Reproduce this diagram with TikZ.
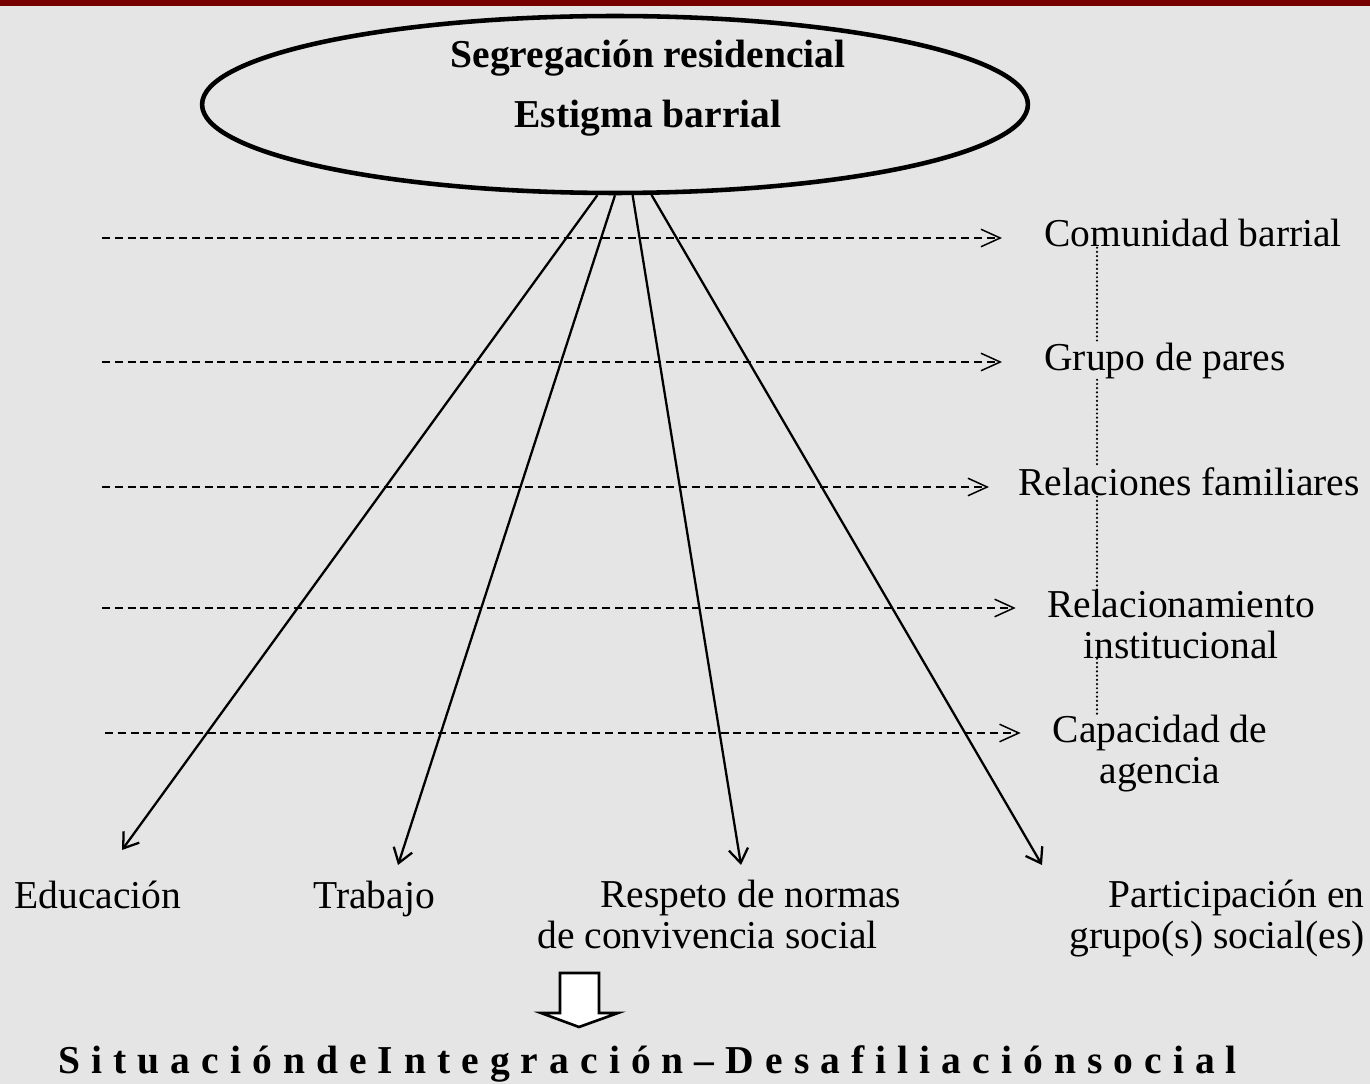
\documentclass[tikz,border=0pt]{standalone}
\usepackage{fontspec}
\setmainfont{Liberation Serif}
\usepackage{tikz}
\usetikzlibrary{shapes.geometric,arrows.meta}
\definecolor{bgcol}{RGB}{229,229,229}
\definecolor{barcol}{RGB}{118,0,0}
\newcommand\lblsize{\fontsize{22.5}{22.8}\selectfont}
\tikzset{
  lbl/.style={inner sep=0pt, font=\lblsize},
  lev/.style={dash pattern=on 4.5pt off 2.8pt, line width=0.85pt, -{Straight Barb[length=11pt,width=10pt]}},
  eff/.style={line width=1.3pt, -{Straight Barb[length=8pt,width=11pt]}},
  link/.style={dash pattern=on 0pt off 2.4pt, line cap=round, line width=1.4pt},
}
\begin{document}
\begin{tikzpicture}[x=0.02cm, y=-0.02cm]
  \fill[bgcol] (0,0) rectangle (1370,1084);
  \fill[barcol] (0,0) rectangle (1370,6);
  \useasboundingbox (0,0) rectangle (1370,1084);

  \node[ellipse, draw, line width=2.6pt, minimum width=16.52cm, minimum height=3.54cm, inner sep=0pt] (seg) at (615,104.5) {};
  \node[lbl, anchor=base, font=\lblsize\bfseries] (segres) at (648,68) {Segregación residencial};
  \node[lbl, anchor=base, font=\lblsize\bfseries] (estbar) at (648,128) {Estigma barrial};

  % niveles de la derecha
  \node[lbl, anchor=base west] (com) at (1044,247) {Comunidad barrial};
  \node[lbl, anchor=base west] (gru) at (1044,371) {Grupo de pares};
  \node[lbl, anchor=base west] (rel) at (1018,496) {Relaciones familiares};
  \node[lbl, anchor=base, align=center] (rcn) at (1181,658) {Relacionamiento\\institucional};
  \node[lbl, anchor=base, align=center] (cap) at (1160,783) {Capacidad de\\agencia};

  \coordinate (d1) at (102,238);
  \coordinate (d2) at (102,362);
  \coordinate (d3) at (102,487);
  \coordinate (d4) at (102,608);
  \coordinate (d5) at (105,733);
  \foreach \i/\n/\s in {1/com/0.84cm, 2/gru/0.84cm, 3/rel/0.58cm, 4/rcn/0.62cm, 5/cap/0.64cm}
    \draw[lev, shorten >=\s] (d\i) -- (d\i -| \n.west);

  \coordinate (dotx) at (1097,0);
  \draw[link] (com.south -| dotx) -- (gru.north -| dotx);
  \draw[link] (gru.south -| dotx) -- (rel.north -| dotx);
  \draw[link] (rel.south -| dotx) -- (rcn.north -| dotx);
  \draw[link] (rcn.south -| dotx) -- (cap.north -| dotx);

  % ambitos de abajo
  \node[lbl, anchor=base west] (edu) at (14,908) {Educación};
  \node[lbl, anchor=base west] (tra) at (313,908) {Trabajo};
  \node[lbl, anchor=base west, align=left] (res) at (537,948) {\hspace*{1.26cm}Respeto de normas\\de convivencia social};
  \node[lbl, anchor=base east, align=right] (par) at (1365,948) {Participación en\\grupo(s) social(es)};

  \coordinate (edutip) at (122,850);
  \coordinate (tratip) at (398,865);
  \coordinate (restip) at (741,865);
  \coordinate (partip) at (1042,865);
  \draw[eff] (seg.259) -- (edutip);
  \draw[eff] (seg.270) -- (tratip);
  \draw[eff] (seg.281) -- (restip);
  \draw[eff] (seg.292) -- (partip);

  \draw[line width=1.5pt, fill=white] (560,973) -- (599,973) -- (599,1013) -- (618,1013)
    -- (579,1027) -- (541,1013) -- (560,1013) -- cycle;

  \node[lbl, anchor=base west, font=\lblsize\bfseries] (sit) at (58,1073)
    {\addfontfeature{LetterSpace=28}SituacióndeIntegración–Desafiliaciónsocial};
\end{tikzpicture}
\end{document}
